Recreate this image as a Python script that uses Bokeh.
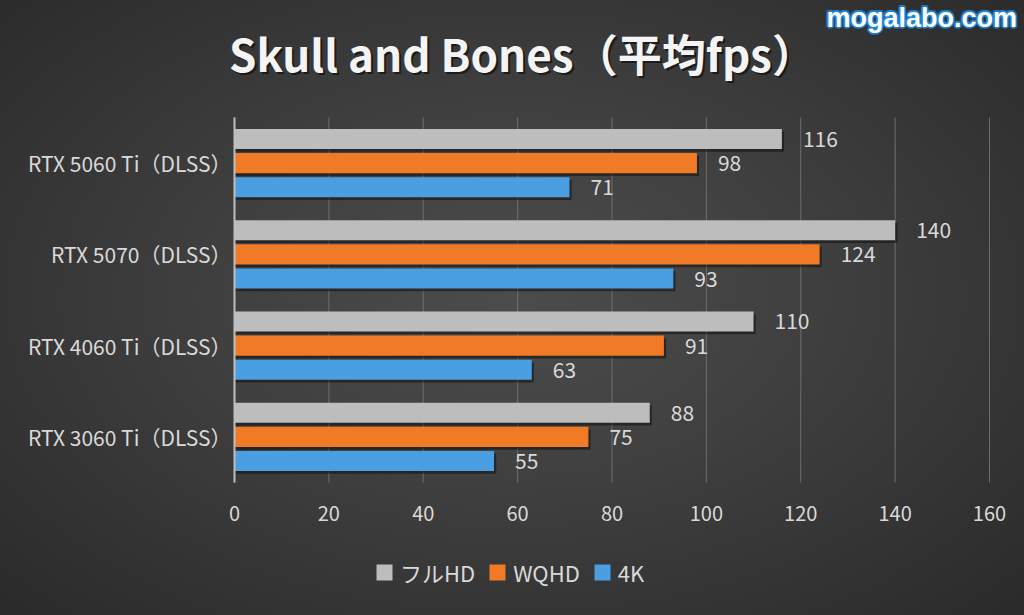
from bokeh.plotting import figure
from bokeh.models import (Range1d, FixedTicker, Label, Legend, LegendItem,
                          ColumnDataSource)
from bokeh.transform import dodge
from bokeh.core.properties import value
from bokeh.embed import file_html
from bokeh.resources import INLINE

# ---- data ----
gpus = ["RTX 5060 Ti（DLSS）", "RTX 5070（DLSS）", "RTX 4060 Ti（DLSS）", "RTX 3060 Ti（DLSS）"]
fhd = [116, 140, 110, 88]
wqhd = [98, 124, 91, 75]
uhd = [71, 93, 63, 55]
series_names = ["フルHD", "WQHD", "4K"]
x_ticks = [0, 20, 40, 60, 80, 100, 120, 140, 160]
title_text = "Skull and Bones（平均fps）"
watermark = "mogalabo.com"

n = len(gpus)
pos = [n - i - 0.5 for i in range(n)]  # top to bottom

src = ColumnDataSource(dict(
    pos=pos, fhd=fhd, wqhd=wqhd, uhd=uhd,
    fhd_s=[str(v) for v in fhd], wqhd_s=[str(v) for v in wqhd], uhd_s=[str(v) for v in uhd],
))
grid_src = ColumnDataSource(dict(x=x_ticks, y0=[0] * len(x_ticks), y1=[n] * len(x_ticks)))

FONT = "Noto Sans CJK JP"
TXT = "#d9d9d9"

# Whole canvas is the frame (1024 x 615); the bar area spans px 234..989 x 117..482
W, HGT = 1024, 615
AX_L, AX_R, AX_T, AX_B = 234, 989, 117, 482
KX = (AX_R - AX_L) / x_ticks[-1]
KY = (AX_B - AX_T) / n
x_range = Range1d(-AX_L / KX, (W - AX_L) / KX)
y_range = Range1d(-(HGT - AX_B) / KY, n + AX_T / KY)

p = figure(width=W, height=HGT, output_backend="svg", toolbar_location=None,
           x_range=x_range, y_range=y_range,
           min_border_left=0, min_border_right=0, min_border_top=0, min_border_bottom=0)
p.border_fill_alpha = 0
p.background_fill_alpha = 0
p.outline_line_color = None

# axes, placed inside the frame
p.xaxis.fixed_location = 0
p.xaxis.ticker = FixedTicker(ticks=x_ticks)
p.xaxis.axis_line_color = None
p.xaxis.major_tick_line_color = None
p.xaxis.minor_tick_line_color = None
p.xaxis.major_label_standoff = 17
p.xaxis.major_label_text_color = TXT
p.xaxis.major_label_text_font = FONT
p.xaxis.major_label_text_font_size = "20px"

p.yaxis.fixed_location = 0
p.yaxis.ticker = FixedTicker(ticks=pos)
p.yaxis.bounds = (0, n)
p.yaxis.major_label_overrides = {pp: g for pp, g in zip(pos, gpus)}
p.yaxis.axis_line_color = "#bfbfbf"
p.yaxis.axis_line_width = 2
p.yaxis.major_tick_line_color = None
p.yaxis.minor_tick_line_color = None
p.yaxis.major_label_standoff = -3
p.yaxis.major_label_text_color = TXT
p.yaxis.major_label_text_font = FONT
p.yaxis.major_label_text_font_size = "21px"

p.xgrid.grid_line_color = None
p.ygrid.grid_line_color = None
# vertical grid lines limited to the bar area
p.segment(x0="x", y0="y0", x1="x", y1="y1", source=grid_src,
          line_color="#6e6e6e", line_width=1)

series = [("fhd", "#bdbdbd", 0.265), ("wqhd", "#f07a26", 0.0), ("uhd", "#4a9ee2", -0.265)]
H = 0.22
renderers = []
for col, color, off in series:
    # drop shadow
    p.hbar(y=dodge("pos", off - 0.03), left=0, right=dodge(col, 0.45), height=H,
           source=src, fill_color="#101010", fill_alpha=0.55, line_color=None)
for col, color, off in series:
    r = p.hbar(y=dodge("pos", off), left=0, right=col, height=H, source=src,
               fill_color=color, line_color=None)
    renderers.append(r)
    p.text(x=col, y=dodge("pos", off), text=col + "_s", source=src, x_offset=21,
           text_baseline="middle", text_align="left", text_color=TXT,
           text_font=value(FONT), text_font_size="21px")

legend = Legend(items=[LegendItem(label=nm, renderers=[r]) for nm, r in zip(series_names, renderers)],
                location=(374, 27), orientation="horizontal",
                background_fill_alpha=0, border_line_color=None,
                label_text_color=TXT, label_text_font=FONT, label_text_font_size="22px",
                glyph_width=20, glyph_height=20, spacing=12, label_standoff=6,
                padding=0, margin=0)
p.add_layout(legend)

# title with soft shadow
for dx, dy, col, a in [(2, -2, "#000000", 0.55), (0, 0, "#f4f4f4", 1.0)]:
    p.add_layout(Label(x=522 + dx, y=563 + dy, x_units="screen", y_units="screen",
                       text=title_text, text_align="center", text_baseline="middle",
                       text_color=col, text_alpha=a, text_font=FONT,
                       text_font_size="44px", text_font_style="bold"))

# watermark with blue glow
for dx, dy in [(-2, 0), (2, 0), (0, 2), (0, -2), (-1.5, -1.5), (1.5, 1.5), (1.5, -1.5), (-1.5, 1.5)]:
    p.add_layout(Label(x=826 + dx, y=598 + dy, x_units="screen", y_units="screen",
                       text=watermark, text_align="left", text_baseline="middle",
                       text_color="#1e90e8", text_alpha=0.55, text_font="Liberation Sans",
                       text_font_size="27px", text_font_style="bold"))
p.add_layout(Label(x=826, y=598, x_units="screen", y_units="screen",
                   text=watermark, text_align="left", text_baseline="middle",
                   text_color="#ffffff", text_font="Liberation Sans",
                   text_font_size="27px", text_font_style="bold"))

template = """
{% block postamble %}
<style>
html { height: 100%; background: radial-gradient(ellipse farthest-corner at 50% 48%, #4c4c4c 0%, #404040 40%, #2a2a2a 100%); }
body { background: transparent; margin: 0; overflow: hidden; }
</style>
{% endblock %}
"""

open("out.html", "w").write(file_html(p, INLINE, template=template))
